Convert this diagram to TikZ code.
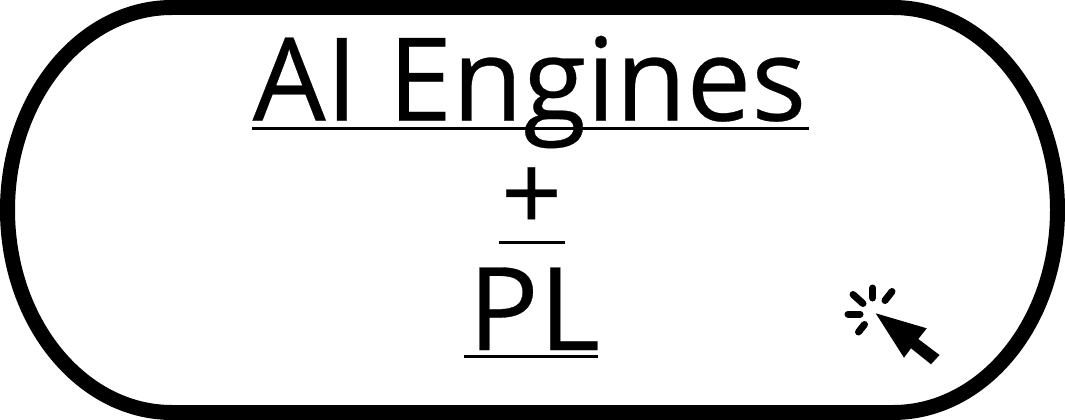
\documentclass[tikz,border=0pt]{standalone}
\usepackage{fontspec}
\setmainfont{Open Sans}
\newfontfamily\lblfont[FakeBold=0.25]{Open Sans}
\tikzset{
  lbl/.style={inner sep=0pt,anchor=base,font=\lblfont\fontsize{115.5}{116}\selectfont},
  uline/.style={line width=3pt},
  spark/.style={line width=7pt,line cap=round}
}
\begin{document}
\begin{tikzpicture}[x=1pt,y=-1pt]
\useasboundingbox (0,0) rectangle (1065,420);
\draw[line width=15pt] (172,7.5) -- (893,7.5) arc[start angle=-90,end angle=0,x radius=164.5,y radius=202.5]
  arc[start angle=0,end angle=90,x radius=164.5,y radius=202.5] -- (172,412.5)
  arc[start angle=90,end angle=180,x radius=164.5,y radius=202.5]
  arc[start angle=180,end angle=270,x radius=164.5,y radius=202.5] -- cycle;
\node[lbl] (ai) at (529.5,120.5) {AI Engines};
\node[lbl,font=\lblfont\fontsize{107}{107}\selectfont] (plus) at (531.5,231) {+};
\node[lbl,xscale=1.02] (pl) at (534,350) {PL};
\draw[uline] (252,128) -- (809,128);
\draw[uline] (499,242.5) -- (565,242.5);
\draw[uline] (464,356.5) -- (598,356.5);
\fill (875.7,313.3) -- (926.7,328.3) -- (918.3,339) -- (939.5,355) -- (931,364.3) -- (911,348.3) -- (904,357.7) -- cycle;
\draw[spark] (872.7,288) -- (872.7,298);
\draw[spark] (853,294.5) -- (863,303.5);
\draw[spark] (892,291.5) -- (885,300.5);
\draw[spark] (848,314) -- (860,314);
\draw[spark] (864.5,324.5) -- (858.5,332);
\end{tikzpicture}
\end{document}
